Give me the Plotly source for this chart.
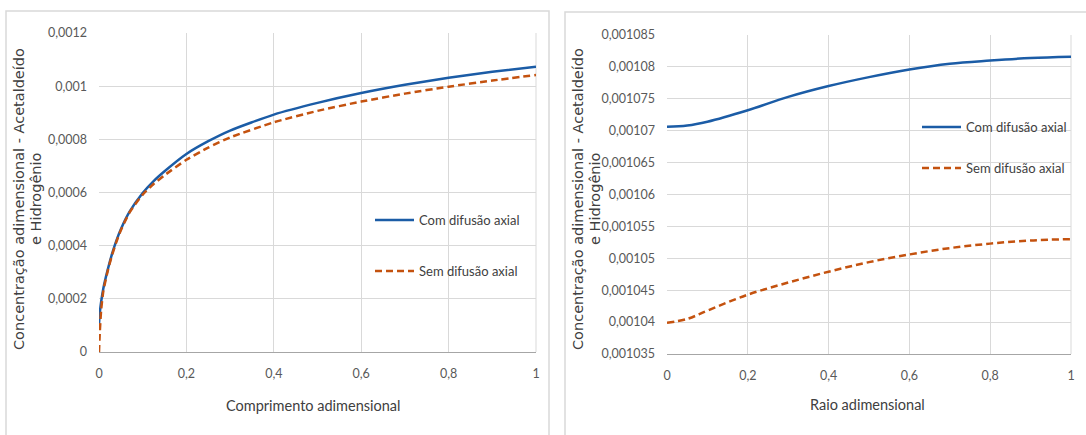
import plotly.graph_objects as go

W, H = 1086, 435

# ---- Left chart data (Comprimento adimensional) ----
comp_x = [0, 0.002, 0.005, 0.01, 0.02, 0.03, 0.04, 0.05, 0.07, 0.1, 0.125, 0.15,
          0.2, 0.25, 0.3, 0.4, 0.5, 0.6, 0.7, 0.8, 0.9, 1.0]
comp_com = [0.000105, 0.00015, 0.00019, 0.00024, 0.00031, 0.00037, 0.00042, 0.000462,
            0.000528, 0.000598, 0.000643, 0.00068, 0.000745, 0.000793, 0.000833,
            0.000893, 0.000937, 0.000974, 0.001005, 0.001032, 0.001054, 0.001073]
comp_sem = [0, 0.00008, 0.00016, 0.00023, 0.000305, 0.000365, 0.000415, 0.000458,
            0.000525, 0.000592, 0.000632, 0.000665, 0.000723, 0.000769, 0.000807,
            0.000864, 0.000907, 0.000942, 0.000972, 0.000998, 0.001021, 0.001042]

# ---- Right chart data (Raio adimensional) ----
raio_x = [0, 0.05, 0.1, 0.2, 0.3, 0.4, 0.5, 0.6, 0.7, 0.8, 0.9, 1.0]
raio_com = [0.0010706, 0.0010708, 0.0010714, 0.0010732, 0.0010753, 0.001077,
            0.0010784, 0.0010796, 0.0010805, 0.001081, 0.0010814, 0.0010816]
raio_sem = [0.0010399, 0.0010405, 0.0010418, 0.0010443, 0.0010462, 0.0010479,
            0.0010494, 0.0010506, 0.0010516, 0.0010523, 0.0010528, 0.001053]

x_ticks = [0, 0.2, 0.4, 0.6, 0.8, 1]
x_ticktext = ["0", "0,2", "0,4", "0,6", "0,8", "1"]
left_y_ticks = [0, 0.0002, 0.0004, 0.0006, 0.0008, 0.001, 0.0012]
left_y_text = ["0", "0,0002", "0,0004", "0,0006", "0,0008", "0,001", "0,0012"]
right_y_ticks = [0.001035, 0.00104, 0.001045, 0.00105, 0.001055, 0.00106,
                 0.001065, 0.00107, 0.001075, 0.00108, 0.001085]
right_y_text = ["0,001035", "0,00104", "0,001045", "0,00105", "0,001055", "0,00106",
                "0,001065", "0,00107", "0,001075", "0,00108", "0,001085"]

series_names = ["Com difusão axial", "Sem difusão axial"]
ytitle_lines = ["Concentração adimensional - Acetaldeído", "e Hidrogênio"]
xtitles = ["Comprimento adimensional", "Raio adimensional"]

BLUE = "#1b5ca6"
ORANGE = "#c4520f"
DASH = "7px,4px"

FAM = "Lato, Carlito, Open Sans, sans-serif"
TICKFONT = dict(family=FAM, size=12.5, color="#595959")
TITLEFONT = dict(family=FAM, size=14.5, color="#404040")
LEGFONT = dict(family=FAM, size=13, color="#404040")
YTITLEFONT = dict(family="DejaVu Sans, Verdana, sans-serif", size=14.5, color="#404040")
GRID = "#d9d9d9"


def px(x):
    return x / W


def py(y):
    return 1 - y / H


fig = go.Figure()
fig.add_trace(go.Scatter(x=comp_x, y=comp_com, mode="lines", name=series_names[0],
                         line=dict(color=BLUE, width=2.5, shape="spline", smoothing=0.6),
                         xaxis="x", yaxis="y", showlegend=False))
fig.add_trace(go.Scatter(x=comp_x, y=comp_sem, mode="lines", name=series_names[1],
                         line=dict(color=ORANGE, width=2.5, dash=DASH, shape="spline", smoothing=0.6),
                         xaxis="x", yaxis="y", showlegend=False))
fig.add_trace(go.Scatter(x=raio_x, y=raio_com, mode="lines", name=series_names[0],
                         line=dict(color=BLUE, width=2.5, shape="spline"),
                         xaxis="x2", yaxis="y2", showlegend=False))
fig.add_trace(go.Scatter(x=raio_x, y=raio_sem, mode="lines", name=series_names[1],
                         line=dict(color=ORANGE, width=2.5, dash=DASH, shape="spline"),
                         xaxis="x2", yaxis="y2", showlegend=False))

xcommon = dict(showgrid=True, gridcolor=GRID, gridwidth=1, zeroline=False,
               showline=True, linecolor="#a6a6a6", linewidth=1, mirror=False,
               ticks="", tickfont=TICKFONT, automargin=False, ticklabelstandoff=10)
ycommon = dict(showgrid=True, gridcolor=GRID, gridwidth=1, zeroline=False,
               showline=False, ticks="", tickfont=TICKFONT, automargin=False,
               ticklabelstandoff=11)

fig.update_layout(
    width=W, height=H,
    margin=dict(l=0, r=0, t=0, b=0, autoexpand=False),
    paper_bgcolor="white", plot_bgcolor="white",
    xaxis=dict(domain=[px(99), px(536)], range=[0, 1], tickvals=x_ticks,
               ticktext=x_ticktext, anchor="y", **xcommon),
    yaxis=dict(domain=[py(352), py(33)], range=[0, 0.0012], tickvals=left_y_ticks,
               ticktext=left_y_text, anchor="x", **ycommon),
    xaxis2=dict(domain=[px(667), px(1071)], range=[0, 1], tickvals=x_ticks,
                ticktext=x_ticktext, anchor="y2", **xcommon),
    yaxis2=dict(domain=[py(354), py(35)], range=[0.001035, 0.001085],
                tickvals=right_y_ticks, ticktext=right_y_text, anchor="x2", **ycommon),
)

shapes = []
# right-edge gridline of each plot area (Excel draws a full box of gridlines)
shapes.append(dict(type="line", xref="x domain", yref="y domain", x0=1, x1=1, y0=0, y1=1,
                   line=dict(color=GRID, width=1), layer="below"))
shapes.append(dict(type="line", xref="x2 domain", yref="y2 domain", x0=1, x1=1, y0=0, y1=1,
                   line=dict(color=GRID, width=1), layer="below"))
# panel borders
shapes.append(dict(type="rect", xref="paper", yref="paper",
                   x0=px(6), x1=px(549), y0=py(445), y1=py(11),
                   line=dict(color="#d9d9d9", width=1.5), fillcolor="rgba(0,0,0,0)"))
shapes.append(dict(type="rect", xref="paper", yref="paper",
                   x0=px(565), x1=px(1095), y0=py(445), y1=py(12),
                   line=dict(color="#d9d9d9", width=1.5), fillcolor="rgba(0,0,0,0)"))

annotations = []


def legend(x0, x1, ys, texts):
    for y, t, c, d in zip(ys, texts, [BLUE, ORANGE], ["solid", DASH]):
        shapes.append(dict(type="line", xref="paper", yref="paper",
                           x0=px(x0), x1=px(x1), y0=py(y), y1=py(y),
                           line=dict(color=c, width=2.5, dash=d)))
        annotations.append(dict(text=t, xref="paper", yref="paper", x=px(x1 + 3), y=py(y),
                                xanchor="left", yanchor="middle", showarrow=False,
                                font=LEGFONT))


legend(375, 414, [220, 271], series_names)
legend(922, 961, [127, 168], series_names)

# axis titles
annotations.append(dict(text=xtitles[0], xref="paper", yref="paper",
                        x=px(313), y=py(405), xanchor="center", yanchor="middle",
                        showarrow=False, font=TITLEFONT))
annotations.append(dict(text=xtitles[1], xref="paper", yref="paper",
                        x=px(867), y=py(404), xanchor="center", yanchor="middle",
                        showarrow=False, font=TITLEFONT))
for xc in (19, 578):
    for i, line in enumerate(ytitle_lines):
        annotations.append(dict(text=line, xref="paper", yref="paper",
                                x=px(xc + 17 * i), y=py(199), xanchor="center",
                                yanchor="middle", textangle=-90, showarrow=False,
                                font=YTITLEFONT))

fig.update_layout(shapes=shapes, annotations=annotations)
fig.write_html("out.html", config={"displayModeBar": False},
               post_script="document.body.style.margin='0';")
